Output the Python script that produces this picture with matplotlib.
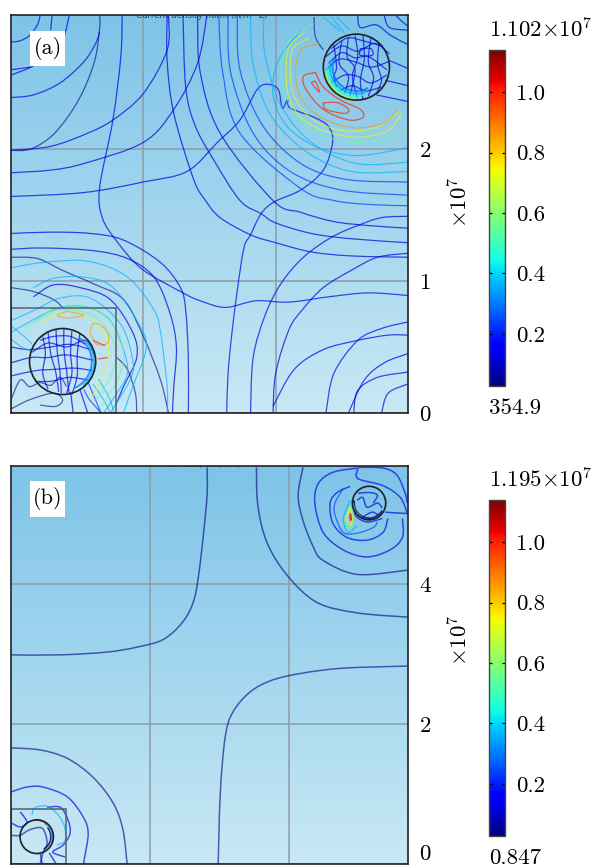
import numpy as np
import matplotlib
matplotlib.use('Agg')
import matplotlib.pyplot as plt
from matplotlib.cm import ScalarMappable
from matplotlib.colors import LinearSegmentedColormap, Normalize
from matplotlib.patches import Arc, Circle, PathPatch, Rectangle
from matplotlib.path import Path

plt.rcParams['font.family'] = ['cmr10', 'DejaVu Serif']
plt.rcParams['mathtext.fontset'] = 'cm'
plt.rcParams['axes.unicode_minus'] = False
plt.rcParams['axes.formatter.use_mathtext'] = True

# colour scale
cbar_ticks = [0.2, 0.4, 0.6, 0.8, 1.0]
cbar_min = 0.027
cbar_max = 1.14
a_max_label = r'$1.102{\times}10^{7}$'
a_min_label = '354.9'
b_max_label = r'$1.195{\times}10^{7}$'
b_min_label = '0.847'

# field levels used for the contours
NAVY, BLUE, MID, CYAN, GREEN, YELLOW, ORANGE, RED = 0.03, 0.12, 0.24, 0.36, 0.55, 0.72, 0.86, 1.0

a_ticks = [0, 1, 2]
b_ticks = [0, 2, 4]
a_size = (3.0, 3.015)
b_size = (5.71, 5.69)
a_wires = [(2.61, 2.62, 0.25), (0.39, 0.39, 0.25)]
b_wires = [(5.15, 5.16, 0.24), (0.37, 0.39, 0.24)]
a_box = 0.795
b_box = 0.79

# panel (a) contours
a_navy = [
    ([0, .15, .33, .51, .63, .67, .67], [1.99, 2.0, 2.12, 2.37, 2.66, 2.92, 3.01]),
    ([0, .20, .39, .62, .85, 1.0, 1.13, 1.19], [1.18, 1.17, 1.08, .98, .86, .58, .25, 0]),
    ([0, .17, .32, .39], [.95, .92, .86, .80]),
    ([.80, .88, .94, .95], [.42, .33, .15, 0]),
    ([0, .07, .14, .22, .30, .37, .42], [.10, .25, .20, .23, .21, .27, .20]),
    ([0, .14, .32, .39, .34, .22], [.03, .10, .15, .10, .05, .06]),
    ([2.29, 2.30, 2.36], [3.0, 2.85, 2.75]),
]
a_blue = [
    ([0, .07, .14, .20, .22], [2.81, 2.82, 2.86, 2.94, 3.01]),
    ([0, .15], [2.60, 2.62]),
    ([0, .15, .27, .39, .44], [2.56, 2.62, 2.70, 2.83, 3.01]),
    ([.31, .30], [3.01, 2.90]),
    ([0, .17, .37, .55, .64, .67], [2.39, 2.41, 2.50, 2.66, 2.80, 2.89]),
    ([0, .30, .58, .77, 1.0, 1.18, 1.19], [1.99, 2.02, 2.12, 2.22, 2.42, 2.75, 3.01]),
    ([0, .30, .55, 1.0, 1.23, 1.41, 1.48], [1.82, 1.84, 1.89, 2.05, 2.30, 2.65, 3.01]),
    ([0, .55, 1.0, 1.33, 1.56, 1.73, 1.86, 1.94, 2.02, 2.05, 2.09, 2.11, 2.29, 2.40, 2.43, 2.36,
      2.19, 1.99, 1.89, 1.81, 1.76, 1.71, 1.67, 1.64, 1.63],
     [1.64, 1.67, 1.75, 1.83, 2.05, 2.22, 2.45, 2.49, 2.45, 2.31, 2.37, 2.31, 2.24, 2.17, 2.05, 1.84,
      1.69, 1.60, 1.51, 1.35, 1.25, .93, .61, .30, 0]),
    ([.84, .83, .77, .67, .69, .80, .99, 1.30, 1.43, 1.62, 1.85, 2.10, 2.40, 2.70, 3.0],
     [3.01, 2.70, 2.22, 1.71, 1.48, 1.30, 1.09, .91, .85, .80, .85, .84, .88, .91, .89]),
    ([1.18, 1.18, 1.23, 1.38, 1.47, 1.58, 1.81, 2.0, 2.27, 2.57, 3.0],
     [3.01, 2.67, 2.27, 1.77, 1.61, 1.48, 1.35, 1.29, 1.22, 1.19, 1.18]),
    ([1.30, 1.32, 1.39, 1.53, 1.73, 1.89, 2.0, 2.27, 2.57, 3.0],
     [3.01, 2.47, 2.18, 1.92, 1.61, 1.51, 1.44, 1.36, 1.32, 1.29]),
    ([1.41, 1.43, 1.58, 1.98, 2.19, 2.44, 2.70, 3.0], [3.01, 2.58, 2.12, 1.61, 1.52, 1.45, 1.42, 1.40]),
    ([1.81, 1.83, 1.92, 2.04, 2.21, 2.42, 2.62, 2.80, 3.0], [0, .42, .74, .98, 1.18, 1.33, 1.42, 1.48, 1.49]),
    ([1.98, 2.0, 2.10, 2.20, 2.36, 2.57, 2.77, 3.0], [0, .30, .63, .78, .95, 1.08, 1.18, 1.21]),
    ([1.98, 2.14, 2.36, 2.62, 2.85, 3.0], [.05, .33, .48, .55, .59, .59]),
    ([2.38, 2.44, 2.62, 2.80, 3.0], [0, .30, .55, .64, .69]),
    ([2.59, 2.62, 2.77, 3.0], [0, .17, .27, .31]),
    ([2.55, 2.67, 2.82, 3.0], [0, .25, .38, .45]),
    ([2.80, 2.85, 3.0], [0, .15, .22]),
    ([0, .30, .60, .85, 1.13, 1.28, 1.32, 1.34, 1.34], [1.36, 1.37, 1.36, 1.31, 1.14, .95, .78, .42, 0]),
    ([0, .24, .62, .88, 1.08, 1.20, 1.25, 1.23, 1.22], [1.24, 1.25, 1.23, 1.17, 1.03, .76, .50, .20, 0]),
    ([.17, .32, .52, .75, .92, .95, .85, .80], [.88, .97, .95, .86, .61, .42, .20, .08]),
    # inside the lower left wire
    ([0, .14, .30, .45, .60], [.50, .48, .50, .52, .48]),
    ([0, .15, .28, .42, .62], [.38, .42, .42, .44, .40]),
    ([0, .18, .32, .48, .62], [.28, .32, .33, .34, .32]),
    ([.16, .28, .42, .56, .63], [.46, .53, .50, .55, .44]),
    ([.18, .30, .44, .58], [.24, .24, .27, .25]),
    ([.24, .26, .24, .28], [.58, .45, .30, .18]),
    ([.28, .30, .34, .36], [.62, .45, .30, .16]),
    ([.34, .35, .37, .38], [.63, .46, .31, .15]),
    ([.40, .40, .42, .44], [.64, .48, .32, .14]),
    ([.46, .45, .46, .42], [.62, .46, .30, .15]),
    ([.52, .50, .50, .46], [.60, .44, .28, .14]),
    ([.22, .32, .45, .56], [.55, .58, .58, .52]),
    ([.45, .47], [.16, 0]),
    ([.52, .58], [.18, 0]),
    # inside and right of the upper right wire
    ([2.64, 2.72, 2.73, 2.64, 2.64], [2.76, 2.76, 2.71, 2.71, 2.76]),
    ([2.38, 2.50, 2.62, 2.75, 2.86], [2.70, 2.78, 2.74, 2.80, 2.72]),
    ([2.38, 2.48, 2.60, 2.72, 2.85], [2.60, 2.68, 2.66, 2.62, 2.66]),
    ([2.42, 2.52, 2.62, 2.72, 2.84], [2.50, 2.56, 2.55, 2.50, 2.56]),
    ([2.48, 2.58, 2.68, 2.80], [2.44, 2.48, 2.44, 2.47]),
    ([2.42, 2.54, 2.66, 2.80], [2.76, 2.84, 2.82, 2.78]),
    ([2.40, 2.50, 2.60, 2.70, 2.84], [2.65, 2.73, 2.69, 2.70, 2.60]),
    ([2.44, 2.46, 2.44, 2.46], [2.79, 2.62, 2.55, 2.47]),
    ([2.50, 2.48, 2.55, 2.52], [2.82, 2.65, 2.55, 2.42]),
    ([2.55, 2.54, 2.60, 2.56], [2.85, 2.70, 2.60, 2.40]),
    ([2.60, 2.62, 2.58, 2.62], [2.86, 2.70, 2.55, 2.38]),
    ([2.66, 2.67, 2.64, 2.66], [2.86, 2.68, 2.52, 2.38]),
    ([2.72, 2.70, 2.74, 2.70], [2.84, 2.66, 2.54, 2.40]),
    ([2.78, 2.77, 2.80, 2.76], [2.80, 2.64, 2.52, 2.42]),
    ([2.62, 2.64, 2.76, 2.87, 3.0], [3.01, 2.92, 2.94, 2.86, 2.79]),
    ([2.82, 2.86, 3.0], [3.01, 2.92, 2.90]),
    ([2.91, 2.95, 3.0], [3.01, 2.97, 2.93]),
    ([2.86, 3.0], [2.67, 2.61]),
    ([2.83, 3.0], [2.52, 2.48]),
    ([2.76, 3.0], [2.41, 2.36]),
]
a_mid = [
    ([1.57, 1.60, 1.73, 2.19, 2.44, 2.70, 3.0], [3.01, 2.58, 2.12, 1.70, 1.61, 1.58, 1.57]),
    ([1.64, 1.66, 1.83, 2.11, 2.49, 3.0], [3.01, 2.58, 2.12, 1.83, 1.69, 1.65]),
    ([1.71, 1.73, 1.90, 2.19, 2.53, 3.0], [3.01, 2.60, 2.18, 1.89, 1.77, 1.75]),
    ([.55, .58, .62, .68], [.18, .12, .07, 0]),
    ([.58, .68], [.24, 0]),
]
a_cyan = [
    ([1.81, 1.83, 1.96, 2.23, 2.57, 3.0], [3.01, 2.64, 2.26, 1.98, 1.83, 1.83]),
    ([1.91, 1.92, 2.04, 2.27, 2.61, 3.0], [3.01, 2.71, 2.33, 2.05, 1.89, 1.90]),
    ([2.19, 2.02, 1.98, 2.08, 2.30, 2.61, 3.0], [2.90, 2.67, 2.41, 2.18, 2.02, 1.95, 2.01]),
    ([0, .24, .58, .88, 1.08, 1.13, 1.18, 1.18], [1.10, 1.14, 1.15, 1.03, .78, .61, .20, 0]),
    ([.17, .32, .55, .77, .98, 1.02, .92, .85], [.95, 1.02, 1.03, .95, .65, .48, .20, 0]),
    ([0, .14, .37, .58, .75, .85, .88, .80, .70], [.61, .69, .80, .80, .70, .48, .30, .15, 0]),
    ([0, .18, .37, .60, .83, .92, .90, .75], [.70, .78, .87, .87, .67, .40, .25, 0]),
    ([.62, .70, .75], [.22, .10, 0]),
    ([.66, .74, .78], [.26, .12, 0]),
    ([0, .10, .16], [.66, .58, .52]),
    ([0, .08, .15], [.56, .50, .47]),
    ([2.36, 2.49], [3.0, 2.89]),
    ([2.46, 2.56], [3.0, 2.90]),
    ([2.42, 2.52], [3.0, 2.88]),
]
a_green = [
    ([2.29, 2.11, 2.05, 2.05, 2.14, 2.32, 2.59, 2.89, 3.0], [2.95, 2.83, 2.67, 2.50, 2.27, 2.12, 2.05, 2.09, 2.17]),
    ([.17, .30, .47, .65, .77, .79, .73, .64], [.68, .77, .78, .72, .55, .40, .23, .10]),
    ([.10, .25, .44, .68, .82, .85, .79, .68], [.64, .73, .81, .76, .58, .40, .22, .05]),
]
a_yellow = [
    ([2.21, 2.10, 2.08, 2.10, 2.21, 2.42, 2.64, 2.85, 2.95], [2.88, 2.77, 2.60, 2.39, 2.22, 2.12, 2.09, 2.14, 2.27]),
    ([2.25, 2.13, 2.11, 2.14, 2.27, 2.50, 2.75, 2.93], [2.84, 2.76, 2.59, 2.40, 2.23, 2.14, 2.16, 2.28]),
    ([.22, .33, .50, .64, .73, .73, .67, .60], [.67, .74, .75, .68, .53, .40, .23, .10]),
]
a_orange = [
    ([2.33, 2.19, 2.15, 2.19, 2.34, 2.59, 2.82, 2.92], [2.80, 2.75, 2.58, 2.39, 2.24, 2.16, 2.20, 2.30]),
    ([.42, .35, .42, .55, .42], [.77, .74, .72, .74, .77]),
    ([.62, .60, .65, .73, .73, .67, .62], [.68, .61, .52, .53, .61, .67, .68]),
]
a_red = [
    ([2.30, 2.21, 2.23, 2.36, 2.55, 2.66, 2.64, 2.49, 2.36, 2.30], [2.58, 2.55, 2.45, 2.30, 2.22, 2.24, 2.30, 2.37, 2.47, 2.58]),
    ([2.36, 2.38, 2.52, 2.55, 2.47, 2.36], [2.35, 2.30, 2.27, 2.30, 2.35, 2.35]),
    ([2.27, 2.33, 2.30, 2.27], [2.50, 2.43, 2.51, 2.50]),
    ([.62, .71], [.55, .51]),
    ([.66, .73], [.41, .42]),
]

# panel (b) contours
b_navy = [
    ([0, .42, .81, 1.18, 1.47, 1.61, 1.67], [1.66, 1.63, 1.51, 1.24, .87, .49, 0]),
    ([0, .71, 1.38, 1.81, 2.19, 2.47, 2.62, 2.69, 2.76, 2.82, 2.82], [2.99, 2.99, 3.03, 3.10, 3.21, 3.46, 3.74, 4.07, 4.64, 5.27, 5.67]),
    ([2.98, 3.01, 3.08, 3.19, 3.44, 3.76, 4.20, 4.78, 5.70], [0, 1.01, 1.81, 2.17, 2.46, 2.63, 2.73, 2.80, 2.83]),
    ([3.53, 3.55, 3.68, 3.97, 4.40, 4.98, 5.70], [5.67, 5.13, 4.60, 4.13, 3.74, 3.59, 3.53]),
    ([4.20, 4.13, 4.20, 4.35, 4.49, 4.98, 5.70], [5.67, 5.27, 4.91, 4.53, 4.34, 4.14, 4.20]),
    ([0, .13, .27, .45, .52, .46, .42], [.41, .41, .49, .51, .30, .16, 0]),
]
b_blue = [
    ([0, .23, .46, .81, 1.04, 1.11, 1.06, 1.04], [1.03, 1.10, 1.10, .96, .67, .44, .10, 0]),
    ([4.98, 4.63, 4.42, 4.37, 4.49, 4.78, 5.12, 5.45, 5.63, 5.63], [5.66, 5.60, 5.44, 5.16, 4.74, 4.49, 4.39, 4.49, 4.67, 4.94]),
    ([4.88, 4.69, 4.59, 4.63, 4.83, 5.12, 5.35, 5.42], [5.40, 5.31, 5.16, 4.87, 4.67, 4.63, 4.74, 4.94]),
    ([4.99, 4.99, 5.35, 5.60, 5.70], [5.66, 5.51, 5.41, 5.24, 5.01]),
    ([4.99, 5.35, 5.55, 5.67, 5.70], [5.67, 5.66, 5.56, 5.30, 5.16]),
    ([5.38, 5.70], [5.03, 5.01]),
    ([4.92, 4.95, 5.12, 5.34], [5.20, 4.99, 4.89, 4.94]),
    ([4.98, 5.06, 5.12, 5.27, 5.34], [5.20, 5.24, 5.10, 5.16, 5.09]),
    ([4.99, 5.17, 5.27, 5.21], [5.30, 5.31, 5.27, 5.16]),
    ([5.06, 5.19, 5.28], [4.96, 5.03, 4.99]),
    ([0, .13, .23, .17, .13], [.59, .53, .59, .70, .74]),
    ([.52, .71, .82, .85, .75, .60, .78], [.81, .81, .63, .44, .27, .17, .10]),
    ([.42, .45], [.16, 0]),
    ([.55, .65], [.16, 0]),
]
b_mid = [
    ([4.78, 4.66, 4.66, 4.78, 4.98, 5.21, 5.27], [5.37, 5.16, 4.99, 4.74, 4.73, 4.81, 4.89]),
]
b_cyan = [
    ([4.88, 4.78, 4.85, 4.98], [5.20, 4.94, 4.74, 4.84]),
    ([.30, .35, .56, .75, .78, .66], [.70, .81, .81, .59, .34, .27]),
]
b_green = [
    ([4.88, 4.81, 4.85, 4.92, 4.92, 4.88], [5.13, 4.94, 4.80, 4.87, 5.06, 5.13]),
]
b_yellow = [
    ([4.88, 4.83, 4.88, 4.91, 4.88], [5.09, 4.94, 4.84, 4.94, 5.09]),
]
b_red = [
    ([4.88, 4.89], [5.01, 4.91]),
]

# lit rims of the wires: radius fraction, first angle, last angle, level
a_top_rim = [(.72, 155, 300, .30), (.80, 165, 295, CYAN), (.87, 175, 285, .45), (.93, 185, 275, GREEN), (.98, 195, 265, YELLOW)]
a_low_rim = [(.88, -65, 55, .30), (.95, -50, 40, CYAN)]
b_top_rim = [(.90, 170, 330, NAVY), (.97, 180, 240, GREEN)]
b_low_rim = [(.85, -60, 40, NAVY), (.93, -20, 60, CYAN), (1.0, 10, 60, YELLOW), (1.0, 50, 100, RED)]

fig_w, fig_h = 598, 866
jet = plt.get_cmap('jet')
norm = Normalize(cbar_min, cbar_max)
bg_cmap = LinearSegmentedColormap.from_list('bg', ['#c8e8f5', '#7ec4e8'])


def smooth_path(xs, ys):
    # bezier through the read points, no new points are added to the data
    pts = np.column_stack([xs, ys])
    n = len(pts)
    verts = [pts[0]]
    for i in range(n - 1):
        p0, p1, p2, p3 = pts[max(i - 1, 0)], pts[i], pts[i + 1], pts[min(i + 2, n - 1)]
        verts += [p1 + (p2 - p0) / 6, p2 - (p3 - p1) / 6, p2]
    codes = [Path.MOVETO] + [Path.CURVE4] * (3 * (n - 1))
    return Path(verts, codes)


def draw_curves(ax, curves, level, lw=0.9, alpha=0.7):
    for xs, ys in curves:
        ax.add_patch(PathPatch(smooth_path(xs, ys), fill=False, ec=jet(norm(level)), lw=lw, alpha=alpha, zorder=3))


def draw_rims(ax, wire, rims):
    cx, cy, r = wire
    for frac, t1, t2, level in rims:
        ax.add_patch(Arc((cx, cy), 2 * r * frac, 2 * r * frac, theta1=t1, theta2=t2,
                         color=jet(norm(level)), lw=1.3, alpha=0.8, zorder=4))


def panel(bottom_px, size, ticks, box, wires, tag, title_size, ylabel_y):
    ax = fig.add_axes([11 / fig_w, bottom_px / fig_h, 397 / fig_w, 398 / fig_h])
    ax.imshow(np.linspace(1, 0, 64)[:, None], cmap=bg_cmap, aspect='auto',
              extent=[0, size[0], 0, size[1]], zorder=0)
    ax.set_xlim(0, size[0])
    ax.set_ylim(0, size[1])
    ax.set_xticks(ticks[1:])
    ax.set_yticks(ticks)
    ax.grid(True, color='#8e9ca6', lw=1.1, zorder=1)
    ax.set_axisbelow(True)
    ax.yaxis.tick_right()
    ax.tick_params(axis='x', length=0, labelbottom=False)
    ax.tick_params(axis='y', length=0, pad=8, labelsize=16.5)
    ax.yaxis.set_label_position('right')
    ax.set_ylabel(r'$\times 10^{7}$', fontsize=16.5)
    ax.yaxis.set_label_coords(1.10, ylabel_y)
    for sp in ax.spines.values():
        sp.set_linewidth(1.2)
        sp.set_color('#222222')
        sp.set_zorder(8)
    ax.add_patch(Rectangle((0, 0), box, box, fill=False, ec='#555f66', lw=1.1, zorder=5))
    for cx, cy, r in wires:
        ax.add_patch(Circle((cx, cy), r, fill=False, ec='#1c2226', lw=1.2, zorder=6))
    # the white label square
    w = 0.088 * size[0]
    x0 = 0.048 * size[0]
    y0 = 0.873 * size[1]
    ax.add_patch(Rectangle((x0, y0), w, w, fc='white', ec='none', zorder=7))
    ax.text(x0 + w / 2, y0 + w / 2, tag, fontsize=16, ha='center', va='center', zorder=8)
    # the source program's own title, cut by the frame
    ax.text(0.48 * size[0], size[1], 'Current density norm (A/m^2)', fontsize=title_size, color='#39424a',
            family='DejaVu Sans', ha='center', va='center', clip_on=True, zorder=2)
    return ax


def colorbar(bottom_px, max_label, min_label):
    cax = fig.add_axes([489 / fig_w, bottom_px / fig_h, 16 / fig_w, 336 / fig_h])
    cb = fig.colorbar(ScalarMappable(norm=norm, cmap=jet), cax=cax, ticks=cbar_ticks)
    cb.ax.set_yticklabels(['%.1f' % t for t in cbar_ticks])
    cb.ax.tick_params(direction='in', left=True, right=True, length=2.5, width=0.9,
                      color='black', pad=8, labelsize=16.5)
    cb.outline.set_linewidth(1.0)
    cb.outline.set_edgecolor('#444444')
    cax.text(0, 1.06, max_label, transform=cax.transAxes, fontsize=16.5, va='center', ha='left')
    cax.text(0, -0.065, min_label, transform=cax.transAxes, fontsize=16.5, va='center', ha='left')


fig = plt.figure(figsize=(fig_w / 100, fig_h / 100), dpi=100)

ax_a = panel(866 - 413, a_size, a_ticks, a_box, a_wires, '(a)', 6.2, 0.53)
draw_curves(ax_a, a_navy, NAVY, alpha=0.6)
draw_curves(ax_a, a_blue, BLUE)
draw_curves(ax_a, a_mid, MID)
draw_curves(ax_a, a_cyan, CYAN, lw=0.8)
draw_curves(ax_a, a_green, GREEN, lw=0.8, alpha=0.7)
draw_curves(ax_a, a_yellow, YELLOW, lw=0.8, alpha=0.7)
draw_curves(ax_a, a_orange, ORANGE, lw=0.8, alpha=0.7)
draw_curves(ax_a, a_red, RED, lw=0.9)
draw_rims(ax_a, a_wires[0], a_top_rim)
draw_rims(ax_a, a_wires[1], a_low_rim)

ax_b = panel(866 - 864, b_size, b_ticks, b_box, b_wires, '(b)', 3.7, 0.563)
ax_b.get_yticklabels()[0].set_verticalalignment('bottom')
draw_curves(ax_b, b_navy, NAVY, lw=1.1, alpha=0.6)
draw_curves(ax_b, b_blue, BLUE, lw=1.1, alpha=0.65)
draw_curves(ax_b, b_mid, MID)
draw_curves(ax_b, b_cyan, CYAN)
draw_curves(ax_b, b_green, GREEN)
draw_curves(ax_b, b_yellow, YELLOW, lw=1.2)
draw_curves(ax_b, b_red, RED, lw=1.5, alpha=1)
draw_rims(ax_b, b_wires[0], b_top_rim)
draw_rims(ax_b, b_wires[1], b_low_rim)

colorbar(866 - 386, a_max_label, a_min_label)
colorbar(866 - 836, b_max_label, b_min_label)

fig.savefig('out.png', dpi=100)
